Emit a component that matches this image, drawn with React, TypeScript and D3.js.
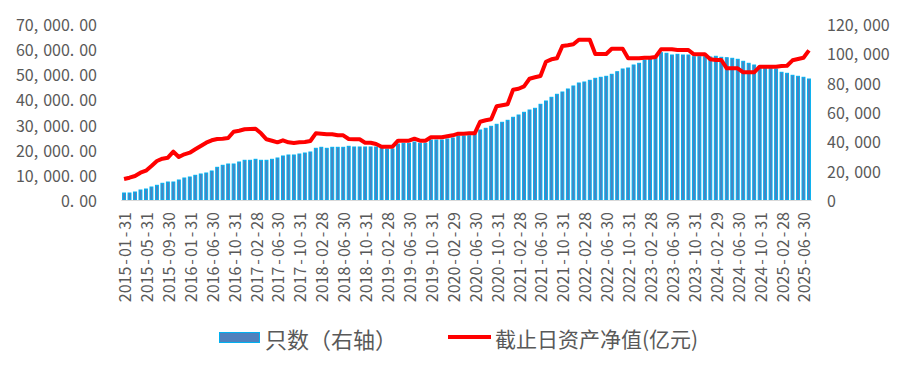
import React, { useEffect, useRef } from 'react'
import * as d3 from 'd3'

// 月度数据 2015-01 ~ 2025-07 (2016 年少一个月, 共 126 期)
const months = d3.timeMonth
  .range(new Date(2015, 0, 1), new Date(2025, 7, 1))
  .filter(d => !(d.getFullYear() === 2016 && d.getMonth() === 2))
const fmtDate = d3.timeFormat('%Y-%m-%d')
const dates = months.map(d => fmtDate(new Date(d.getFullYear(), d.getMonth() + 1, 0)))

const tickLabels = [
  '2015-01-31', '2015-05-31', '2015-09-30', '2016-01-31', '2016-06-30', '2016-10-31',
  '2017-02-28', '2017-06-30', '2017-10-31', '2018-02-28', '2018-06-30', '2018-10-31',
  '2019-02-28', '2019-06-30', '2019-10-31', '2020-02-29', '2020-06-30', '2020-10-31',
  '2021-02-28', '2021-06-30', '2021-10-31', '2022-02-28', '2022-06-30', '2022-10-31',
  '2023-02-28', '2023-06-30', '2023-10-31', '2024-02-29', '2024-06-30', '2024-10-31',
  '2025-02-28', '2025-06-30',
]

// 只数 (右轴)
const counts = [
  4770, 4770, 5450, 6820, 7500, 8860, 10020, 11390, 12270, 12270,
  13640, 15000, 15680, 16840, 17730, 18410, 19770, 22290, 23660, 24540,
  24540, 25910, 27070, 27070, 27750, 27070, 27070, 27750, 28640, 30000,
  30680, 30680, 31360, 32040, 32730, 35250, 35930, 35250, 35930, 35930,
  35930, 36610, 36140, 36140, 36140, 36140, 36140, 35450, 34770, 34770,
  38180, 38660, 38660, 39540, 38660, 38660, 40910, 40910, 40910, 41590,
  42270, 43640, 43640, 43840, 44790, 47730, 48880, 50250, 51610, 52980,
  54340, 56390, 57950, 59790, 61360, 62520, 65250, 67500, 70020, 72070,
  73630, 75680, 77730, 79770, 80450, 81610, 82970, 83660, 84340, 85700,
  87470, 89320, 90000, 92040, 93200, 95450, 96130, 96610, 100430, 100020,
  98860, 99340, 98860, 98860, 97700, 97700, 97700, 97500, 97980, 97290,
  97020, 96610, 95930, 94570, 93200, 92040, 90880, 90200, 89790, 89320,
  87070, 86380, 85020, 84340, 83660, 82500,
]

// 截止日资产净值 (亿元, 左轴)
const netAssets = [
  8350, 8870, 9540, 10860, 11650, 13520, 15510, 16430, 16820, 19210,
  17100, 18170, 18810, 20160, 21480, 22790, 23740, 24260, 24380, 24660,
  27160, 27560, 28120, 28240, 28360, 26530, 24140, 23580, 22950, 23740,
  22950, 22670, 22950, 23070, 23460, 26530, 26370, 26130, 26130, 25730,
  25730, 24260, 24140, 24140, 22790, 22790, 22270, 21200, 21200, 21200,
  23580, 23580, 23580, 24380, 23580, 23580, 24940, 24940, 24940, 25330,
  25730, 26370, 26370, 26530, 26530, 31140, 31700, 32090, 37260, 37660,
  38060, 43870, 44260, 45220, 48240, 48800, 49310, 55000, 55960, 56350,
  61250, 61520, 61920, 63750, 63750, 63750, 58060, 58060, 58060, 60170,
  60170, 60170, 56350, 56350, 56350, 56590, 56590, 56870, 59930, 59930,
  59930, 59660, 59660, 59660, 57940, 57940, 57940, 55960, 55680, 55680,
  52380, 52380, 52380, 50790, 50790, 50790, 53010, 53010, 53010, 53010,
  53290, 53410, 55560, 56080, 56590, 59530,
]

const FONT = '"Noto Sans CJK SC", sans-serif'
const GREY = '#595959'

// 宽标点: 在 , . - 处加一点间距, 文字内容不变
function spacedText(sel: any, str: string, gap: number) {
  const parts = str.split(/([,.\-])/).filter(p => p !== '')
  let prevPunct = false
  parts.forEach((p, i) => {
    const isPunct = /^[,.\-]$/.test(p)
    let dx = 0
    if (i > 0 && (isPunct && p === '-' ? true : prevPunct)) dx = gap
    sel.append('tspan').attr('dx', dx).text(p)
    prevPunct = isPunct
  })
}

export default function App() {
  const ref = useRef<SVGSVGElement>(null)

  useEffect(() => {
    const svg = d3.select(ref.current)
    svg.selectAll('*').remove()

    const left = 121.3, right = 811.7, top = 24, bottom = 200

    const x = d3.scaleBand<number>()
      .domain(d3.range(dates.length))
      .range([left, right])
      .paddingInner(0.47)
      .paddingOuter(0.235)
    const yL = d3.scaleLinear().domain([0, 70000]).range([bottom, top])
    const yR = d3.scaleLinear().domain([0, 120000]).range([bottom, top])

    // 柱子
    svg.append('g')
      .selectAll('rect')
      .data(counts)
      .enter()
      .append('rect')
      .attr('x', (d, i) => x(i)!)
      .attr('y', d => yR(d))
      .attr('width', x.bandwidth())
      .attr('height', d => bottom - yR(d))
      .attr('fill', '#4F81BD')
      .attr('stroke', '#00B0F0')
      .attr('stroke-width', 1)

    // x 轴线
    svg.append('line')
      .attr('x1', left).attr('x2', right)
      .attr('y1', bottom + 0.5).attr('y2', bottom + 0.5)
      .attr('stroke', '#D9D9D9')

    // 净值折线
    const line = d3.line<number>()
      .x((d, i) => x(i)! + x.bandwidth() / 2)
      .y(d => yL(d))
    svg.append('path')
      .datum(netAssets)
      .attr('d', line)
      .attr('fill', 'none')
      .attr('stroke', '#FF0000')
      .attr('stroke-width', 4)
      .attr('stroke-linejoin', 'round')

    // 左轴
    const fmtL = d3.format(',.2f')
    yL.ticks(7).forEach(t => {
      const txt = svg.append('text')
        .attr('x', 97).attr('y', yL(t))
        .attr('text-anchor', 'end')
        .attr('dominant-baseline', 'central')
        .attr('font-family', FONT).attr('font-size', 16)
        .attr('fill', GREY)
      spacedText(txt, fmtL(t), 5)
    })

    // 右轴
    const fmtR = d3.format(',')
    d3.range(0, 120001, 20000).forEach(t => {
      const txt = svg.append('text')
        .attr('x', 827).attr('y', yR(t))
        .attr('text-anchor', 'start')
        .attr('dominant-baseline', 'central')
        .attr('font-family', FONT).attr('font-size', 16)
        .attr('fill', GREY)
      spacedText(txt, fmtR(t), 5)
    })

    // x 轴标签
    tickLabels.forEach((lab, k) => {
      const cx = x(k * 4)! + x.bandwidth() / 2
      const txt = svg.append('text')
        .attr('transform', 'translate(' + cx + ',' + 212 + ') rotate(-90)')
        .attr('text-anchor', 'end')
        .attr('dominant-baseline', 'central')
        .attr('font-family', FONT).attr('font-size', 16)
        .attr('fill', GREY)
      spacedText(txt, lab, 2)
    })

    // 图例
    const lg = svg.append('g')
    lg.append('rect')
      .attr('x', 219.5).attr('y', 332.5).attr('width', 40).attr('height', 10)
      .attr('fill', '#4F81BD').attr('stroke', '#00B0F0')
    lg.append('text')
      .attr('x', 265).attr('y', 338)
      .attr('dominant-baseline', 'central')
      .attr('font-family', FONT).attr('font-size', 22)
      .attr('fill', GREY)
      .text('只数（右轴）')
    lg.append('line')
      .attr('x1', 448).attr('x2', 491).attr('y1', 337).attr('y2', 337)
      .attr('stroke', '#FF0000').attr('stroke-width', 4)
    lg.append('text')
      .attr('x', 495).attr('y', 338)
      .attr('dominant-baseline', 'central')
      .attr('font-family', FONT).attr('font-size', 21)
      .attr('fill', GREY)
      .text('截止日资产净值(亿元)')
  }, [])

  return (
    <svg
      ref={ref}
      width={915}
      height={369}
      style={{ position: 'absolute', left: 0, top: 0, background: '#fff' }}
    />
  )
}
